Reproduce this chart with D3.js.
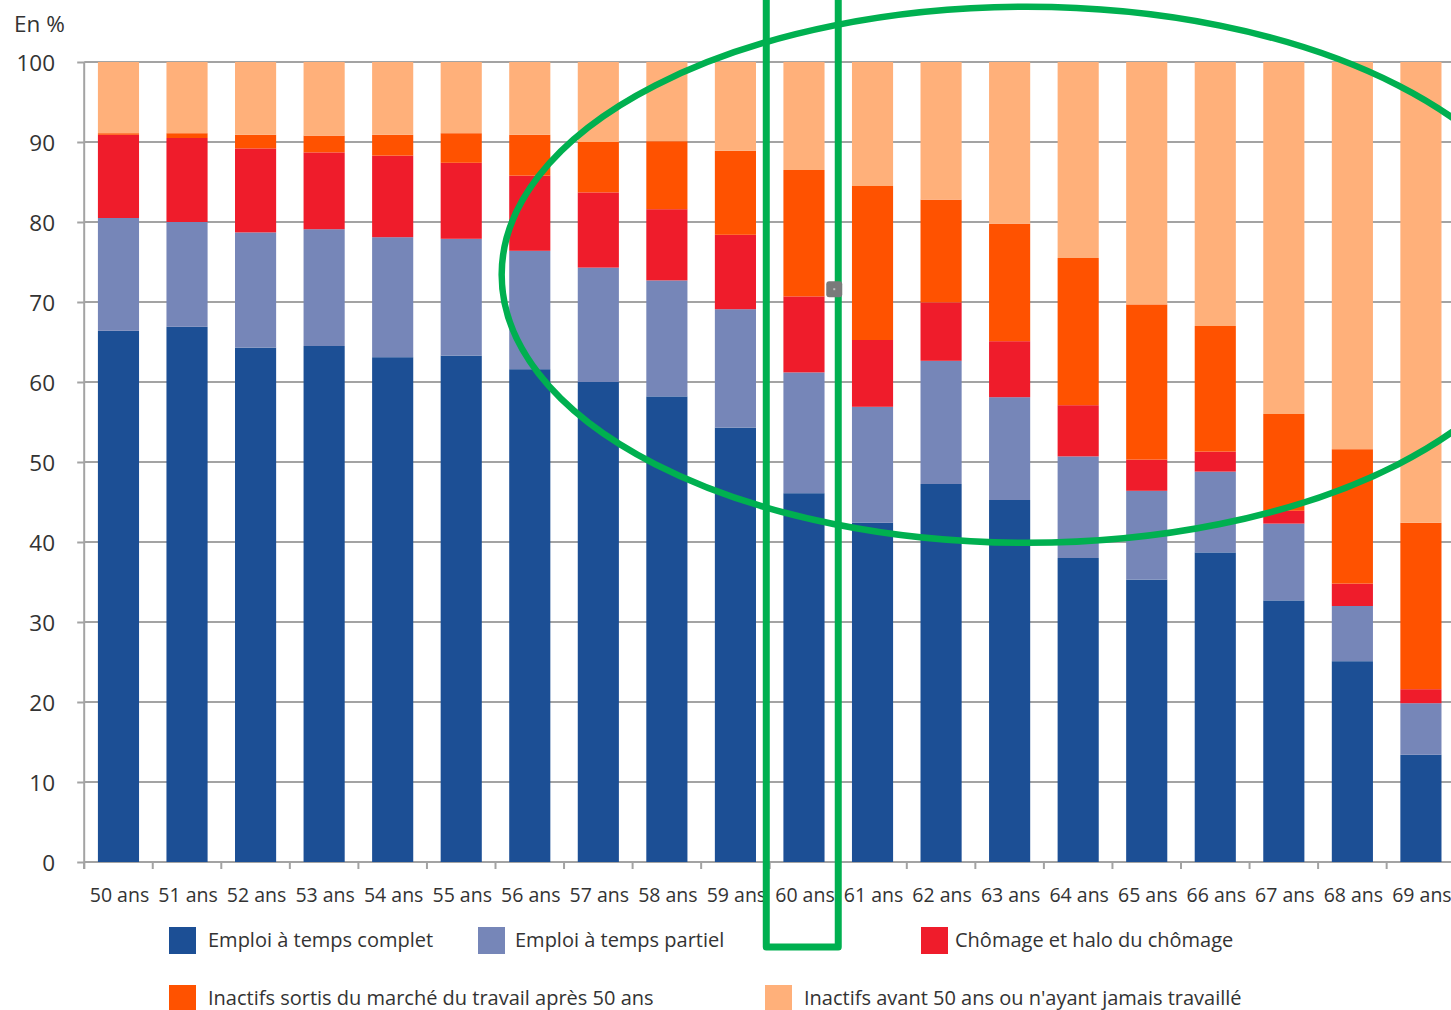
<!DOCTYPE html>
<html>
<head>
<meta charset="utf-8">
<script src="https://cdn.jsdelivr.net/npm/d3@7"></script>
<style>
  html, body { margin: 0; padding: 0; background: #fff; }
  svg { display: block; }
  text { font-family: "Open Sans", "Noto Sans", sans-serif; fill: #333; }
</style>
</head>
<body>
<svg id="chart" width="1451" height="1010"></svg>
<script>
// ---------- Data ----------
const ages = ["50 ans","51 ans","52 ans","53 ans","54 ans","55 ans","56 ans","57 ans","58 ans","59 ans",
              "60 ans","61 ans","62 ans","63 ans","64 ans","65 ans","66 ans","67 ans","68 ans","69 ans"];
const fullTime        = [66.4, 66.9, 64.3, 64.5, 63.1, 63.3, 61.6, 60.0, 58.2, 54.3, 46.1, 42.4, 47.25, 45.25, 38.0, 35.3, 38.7, 32.7, 25.1, 13.4];
const partTime        = [14.1, 13.1, 14.4, 14.6, 15.0, 14.6, 14.8, 14.3, 14.5, 14.8, 15.1, 14.5, 15.4, 12.85, 12.7, 11.1, 10.1, 9.6, 6.9, 6.45];
const unemployment    = [10.4, 10.5, 10.5, 9.6, 10.2, 9.5, 9.4, 9.4, 8.9, 9.3, 9.5, 8.35, 7.3, 7.0, 6.4, 3.9, 2.5, 1.6, 2.8, 1.75];
const inactiveAfter50 = [0.2, 0.6, 1.7, 2.1, 2.6, 3.7, 5.1, 6.3, 8.5, 10.5, 15.8, 19.25, 12.85, 14.7, 18.4, 19.4, 15.7, 12.1, 16.8, 20.8];
const inactiveBefore50= [8.9, 8.9, 9.1, 9.2, 9.1, 8.9, 9.1, 10.0, 9.9, 11.1, 13.5, 15.5, 17.2, 20.2, 24.5, 30.3, 33.0, 44.0, 48.4, 57.6];

const seriesNames = ["Emploi à temps complet", "Emploi à temps partiel", "Chômage et halo du chômage",
                     "Inactifs sortis du marché du travail après 50 ans", "Inactifs avant 50 ans ou n'ayant jamais travaillé"];
const seriesColors = ["#1c4f95", "#7686b8", "#ef1c2b", "#ff5200", "#ffb07a"];
const yTicks = [0, 10, 20, 30, 40, 50, 60, 70, 80, 90, 100];
const yUnit = "En %";

// Annotation (green highlight) in data terms
const highlightAge = "60 ans";
const ellipseSpec = { centerStep: 13.75, radiusSteps: 7.66, centerValue: 73.4, radiusValue: 33.5 };
const handleValue = 71.6;

// ---------- Layout ----------
const svg = d3.select("#chart");
const plot = { left: 84.2, right: 1455.2, top: 62, bottom: 862 };

const x = d3.scaleBand().domain(ages).range([plot.left, plot.right]).paddingInner(0.4).paddingOuter(0.2);
const y = d3.scaleLinear().domain([0, 100]).range([plot.bottom, plot.top]);

const rows = ages.map((a, i) => ({
  age: a, s0: fullTime[i], s1: partTime[i], s2: unemployment[i], s3: inactiveAfter50[i], s4: inactiveBefore50[i]
}));
const keys = ["s0", "s1", "s2", "s3", "s4"];
const stacked = d3.stack().keys(keys)(rows);

// Gridlines
const grid = svg.append("g").attr("class", "grid");
grid.selectAll("line").data(yTicks).join("line")
  .attr("x1", plot.left).attr("x2", plot.right)
  .attr("y1", d => y(d)).attr("y2", d => y(d))
  .attr("stroke", "#a3a3a3").attr("stroke-width", 2);

// Y axis
const yAxis = svg.append("g").attr("transform", `translate(${plot.left},0)`)
  .call(d3.axisLeft(y).tickValues(yTicks).tickSize(7).tickPadding(0).tickFormat(d3.format("d")));
yAxis.select(".domain").attr("stroke", "#a3a3a3").attr("stroke-width", 2)
  .attr("d", `M0,${plot.top}V${plot.bottom + 7}`);
yAxis.selectAll(".tick line").attr("stroke", "#a3a3a3").attr("stroke-width", 2);
yAxis.selectAll(".tick text").attr("x", 55 - plot.left).attr("dy", "0.36em")
  .style("font-size", "22.5px").style("font-family", "'Open Sans', sans-serif").attr("fill", "#333");

// X axis
const step = x.step();
const xAxis = svg.append("g").attr("transform", `translate(0,${plot.bottom})`);
const boundaries = d3.range(ages.length + 1).map(i => plot.left + i * step);
xAxis.selectAll("line.tk").data(boundaries).join("line").attr("class", "tk")
  .attr("x1", d => d).attr("x2", d => d).attr("y1", 0).attr("y2", 7)
  .attr("stroke", "#a3a3a3").attr("stroke-width", 2);
xAxis.append("line").attr("x1", plot.left).attr("x2", plot.right).attr("y1", 0).attr("y2", 0)
  .attr("stroke", "#a3a3a3").attr("stroke-width", 2);
xAxis.selectAll("text").data(ages).join("text")
  .attr("x", d => x(d) + x.bandwidth() / 2 + 1).attr("y", 40)
  .attr("text-anchor", "middle").style("font-size", "19.5px").text(d => d);

// Bars
svg.append("g").selectAll("g").data(stacked).join("g")
  .attr("fill", (d, i) => seriesColors[i])
  .selectAll("rect").data(d => d).join("rect")
  .attr("x", d => x(d.data.age))
  .attr("width", x.bandwidth())
  .attr("y", d => y(d[1]))
  .attr("height", d => y(d[0]) - y(d[1]));

// Y unit label
svg.append("text").attr("x", 14).attr("y", 32).style("font-size", "22.5px").text(yUnit);

// Legend
const legendLayout = [
  { x: 169, y: 927, tx: 208 }, { x: 478, y: 927, tx: 515 }, { x: 921, y: 927, tx: 955 },
  { x: 169, y: 985, tx: 208 }, { x: 765, y: 985, tx: 804 }
];
const legend = svg.append("g");
seriesNames.forEach((name, i) => {
  const p = legendLayout[i];
  legend.append("rect").attr("x", p.x).attr("y", p.y).attr("width", 27).attr("height", 27)
    .attr("fill", seriesColors[i]);
  legend.append("text").attr("x", p.tx).attr("y", p.y + 19.5)
    .style("font-size", "20px").text(name);
});

// Green highlight annotations
const ann = svg.append("g");
const rectLeft = x(highlightAge) - 0.25 * step;
const rectRight = x(highlightAge) + x.bandwidth() + 0.2 * step;
ann.append("path")
  .attr("d", `M${rectLeft},-20V947H${rectRight}V-20`)
  .attr("fill", "none").attr("stroke", "#00b050").attr("stroke-width", 7).attr("stroke-linejoin", "round");
ann.append("ellipse")
  .attr("cx", plot.left + ellipseSpec.centerStep * step)
  .attr("cy", y(ellipseSpec.centerValue))
  .attr("rx", ellipseSpec.radiusSteps * step)
  .attr("ry", y(0) - y(ellipseSpec.radiusValue))
  .attr("fill", "none").attr("stroke", "#00b050").attr("stroke-width", 6.5);
ann.append("rect")
  .attr("x", rectRight - 12).attr("y", y(handleValue) - 8).attr("width", 16).attr("height", 16)
  .attr("rx", 3).attr("fill", "#7a7a7a");
ann.append("rect")
  .attr("x", rectRight - 5).attr("y", y(handleValue) - 1).attr("width", 2).attr("height", 2)
  .attr("fill", "#bbb");
</script>
</body>
</html>
